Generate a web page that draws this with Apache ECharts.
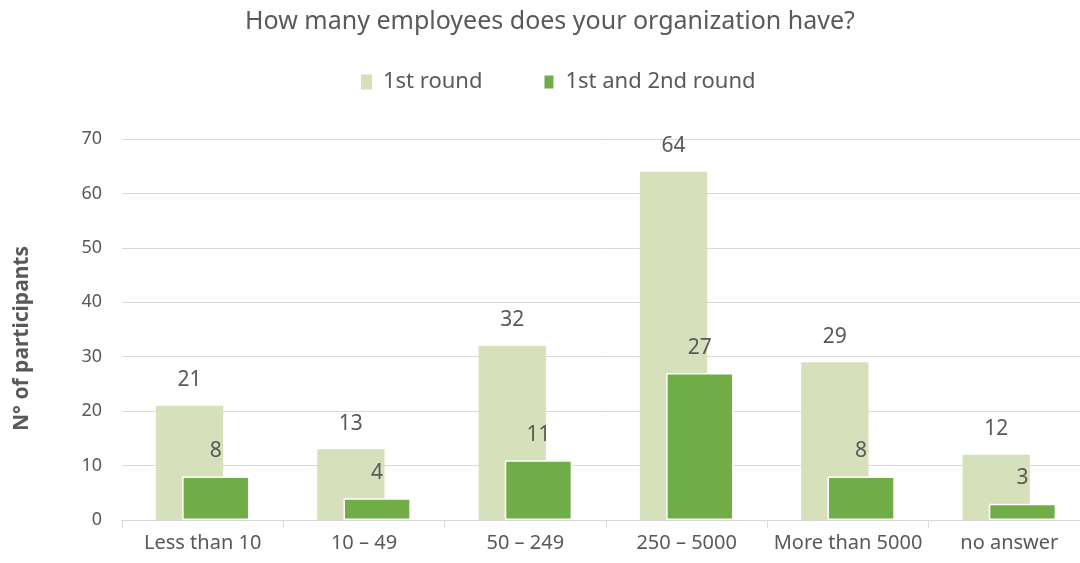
<!DOCTYPE html>
<html>
<head>
<meta charset="utf-8">
<script src="https://cdn.jsdelivr.net/npm/echarts@6/dist/echarts.min.js"></script>
<style>
  html, body { margin: 0; padding: 0; background: #ffffff; }
  #chart { width: 1080px; height: 563px; }
</style>
</head>
<body>
<div id="chart"></div>
<script>
// Survey: company size of participants
const categories = ['Less than 10', '10 – 49', '50 – 249', '250 – 5000', 'More than 5000', 'no answer'];
const firstRound = [21, 13, 32, 64, 29, 12];
const bothRounds = [8, 4, 11, 27, 8, 3];
const seriesNames = ['1st round', '1st and 2nd round'];

const FONT = '"Noto Sans", "Open Sans", sans-serif';
const TEXT = '#595959';

const chart = echarts.init(document.getElementById('chart'), null, { renderer: 'canvas' });

chart.setOption({
  animation: false,
  backgroundColor: '#ffffff',
  textStyle: { fontFamily: FONT, color: TEXT },
  title: {
    text: 'How many employees does your organization have?',
    left: 240,
    top: 4,
    textStyle: { fontFamily: FONT, fontSize: 25, fontWeight: 'normal', color: TEXT }
  },
  legend: {
    top: 66,
    left: 356,
    itemWidth: 11,
    itemHeight: 15,
    itemGap: 60,
    icon: 'rect',
    textStyle: { fontFamily: FONT, fontSize: 22, color: TEXT, padding: [0, 0, 0, 6] },
    data: seriesNames
  },
  // the plot runs a little past the right edge of the page
  grid: { left: 122, width: 968, top: 139, bottom: 43, outerBoundsMode: 'none', containLabel: false },
  xAxis: {
    type: 'category',
    data: categories,
    axisLine: { lineStyle: { color: '#d9d9d9', width: 1 } },
    axisTick: { show: true, length: 8, lineStyle: { color: '#d9d9d9' } },
    axisLabel: { fontFamily: FONT, fontSize: 20, color: TEXT, margin: 13, interval: 0 }
  },
  yAxis: {
    type: 'value',
    min: 0,
    max: 70,
    interval: 10,
    name: 'N° of participants',
    nameLocation: 'middle',
    nameRotate: 90,
    nameGap: 89,
    nameTextStyle: { fontFamily: FONT, fontSize: 21, fontWeight: 'bold', color: TEXT, padding: [0, 18, 0, 0] },
    axisLine: { show: false },
    axisTick: { show: false },
    axisLabel: { fontFamily: FONT, fontSize: 18, color: TEXT, margin: 20 },
    splitLine: { lineStyle: { color: '#d9d9d9', width: 1 } }
  },
  series: [
    {
      name: seriesNames[0],
      type: 'bar',
      data: firstRound,
      barGap: '-61%',
      barCategoryGap: '42%',
      itemStyle: { color: '#d6e1bb' },
      label: {
        show: true,
        position: 'top',
        distance: 15,
        fontFamily: FONT,
        fontSize: 21,
        color: TEXT
      }
    },
    {
      name: seriesNames[1],
      type: 'bar',
      data: bothRounds,
      itemStyle: { color: '#70ad47', borderColor: '#ffffff', borderWidth: 1.5 },
      label: {
        show: true,
        position: 'top',
        distance: 15,
        fontFamily: FONT,
        fontSize: 21,
        color: TEXT
      }
    }
  ]
});
</script>
</body>
</html>
